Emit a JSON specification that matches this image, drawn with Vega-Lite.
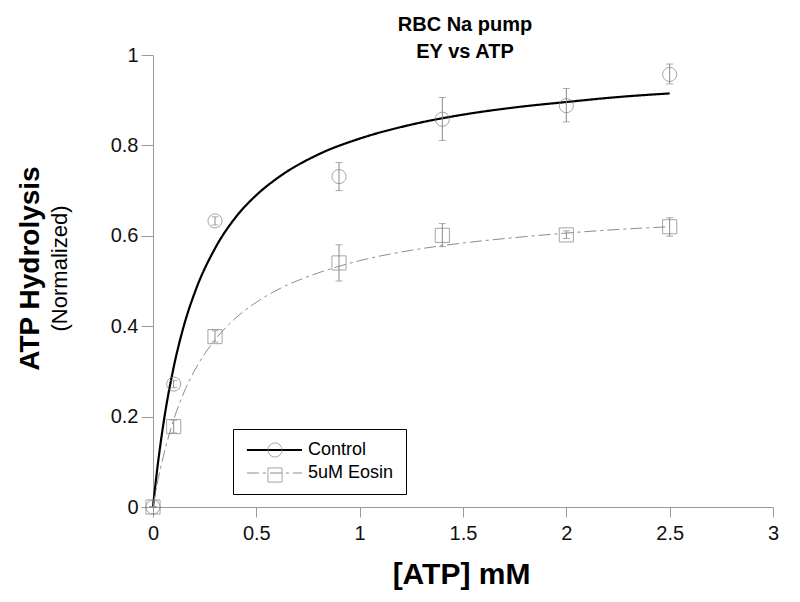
{
  "$schema": "https://vega.github.io/schema/vega-lite/v6.json",
  "width": 620,
  "height": 452,
  "autosize": {"type": "none"},
  "padding": {"left": 153, "top": 55, "right": 27, "bottom": 95},
  "background": "white",
  "config": {
    "view": {"stroke": null},
    "font": "Liberation Sans",
    "axis": {"grid": false, "domainColor": "#9a9a9a", "tickColor": "#9a9a9a", "labelColor": "#111111", "labelFontSize": 20, "labelFont": "Liberation Sans", "titleFont": "Liberation Sans", "titleColor": "#000000"}
  },
  "title": {"text": ["RBC Na pump", "EY vs ATP"], "fontSize": 20, "fontWeight": "bold", "font": "Liberation Sans", "anchor": "middle", "lineHeight": 27, "offset": -17, "dx": 2, "color": "#000000"},
  "datasets": {
    "curves": [
      {"x": 0, "y": 0, "series": "Control"},
      {"x": 0.02, "y": 0.082, "series": "Control"},
      {"x": 0.05, "y": 0.183, "series": "Control"},
      {"x": 0.1, "y": 0.309, "series": "Control"},
      {"x": 0.15, "y": 0.402, "series": "Control"},
      {"x": 0.2, "y": 0.472, "series": "Control"},
      {"x": 0.3, "y": 0.572, "series": "Control"},
      {"x": 0.4, "y": 0.641, "series": "Control"},
      {"x": 0.5, "y": 0.69, "series": "Control"},
      {"x": 0.6, "y": 0.727, "series": "Control"},
      {"x": 0.8, "y": 0.78, "series": "Control"},
      {"x": 1.0, "y": 0.815, "series": "Control"},
      {"x": 1.25, "y": 0.846, "series": "Control"},
      {"x": 1.5, "y": 0.868, "series": "Control"},
      {"x": 1.75, "y": 0.884, "series": "Control"},
      {"x": 2.0, "y": 0.896, "series": "Control"},
      {"x": 2.25, "y": 0.907, "series": "Control"},
      {"x": 2.5, "y": 0.915, "series": "Control"},
      {"x": 0, "y": 0, "series": "5uM Eosin"},
      {"x": 0.02, "y": 0.05, "series": "5uM Eosin"},
      {"x": 0.05, "y": 0.112, "series": "5uM Eosin"},
      {"x": 0.1, "y": 0.193, "series": "5uM Eosin"},
      {"x": 0.15, "y": 0.254, "series": "5uM Eosin"},
      {"x": 0.2, "y": 0.301, "series": "5uM Eosin"},
      {"x": 0.3, "y": 0.37, "series": "5uM Eosin"},
      {"x": 0.4, "y": 0.418, "series": "5uM Eosin"},
      {"x": 0.5, "y": 0.453, "series": "5uM Eosin"},
      {"x": 0.6, "y": 0.48, "series": "5uM Eosin"},
      {"x": 0.8, "y": 0.518, "series": "5uM Eosin"},
      {"x": 1.0, "y": 0.545, "series": "5uM Eosin"},
      {"x": 1.25, "y": 0.568, "series": "5uM Eosin"},
      {"x": 1.5, "y": 0.584, "series": "5uM Eosin"},
      {"x": 1.75, "y": 0.596, "series": "5uM Eosin"},
      {"x": 2.0, "y": 0.606, "series": "5uM Eosin"},
      {"x": 2.25, "y": 0.614, "series": "5uM Eosin"},
      {"x": 2.5, "y": 0.62, "series": "5uM Eosin"}
    ],
    "points": [
      {"x": 0, "y": 0, "lo": 0, "hi": 0, "group": "Control"},
      {"x": 0.1, "y": 0.272, "lo": 0.264, "hi": 0.28, "group": "Control"},
      {"x": 0.3, "y": 0.633, "lo": 0.624, "hi": 0.642, "group": "Control"},
      {"x": 0.9, "y": 0.731, "lo": 0.7, "hi": 0.762, "group": "Control"},
      {"x": 1.4, "y": 0.858, "lo": 0.811, "hi": 0.906, "group": "Control"},
      {"x": 2.0, "y": 0.888, "lo": 0.852, "hi": 0.926, "group": "Control"},
      {"x": 2.5, "y": 0.957, "lo": 0.936, "hi": 0.98, "group": "Control"},
      {"x": 0, "y": 0, "lo": 0, "hi": 0, "group": "5uM Eosin"},
      {"x": 0.1, "y": 0.178, "lo": 0.164, "hi": 0.192, "group": "5uM Eosin"},
      {"x": 0.3, "y": 0.377, "lo": 0.365, "hi": 0.39, "group": "5uM Eosin"},
      {"x": 0.9, "y": 0.54, "lo": 0.5, "hi": 0.58, "group": "5uM Eosin"},
      {"x": 1.4, "y": 0.601, "lo": 0.576, "hi": 0.627, "group": "5uM Eosin"},
      {"x": 2.0, "y": 0.602, "lo": 0.594, "hi": 0.611, "group": "5uM Eosin"},
      {"x": 2.5, "y": 0.62, "lo": 0.599, "hi": 0.64, "group": "5uM Eosin"}
    ]
  },
  "resolve": {"axis": {"y": "independent"}},
  "layer": [
    {
      "data": {"name": "curves"},
      "mark": {"type": "line", "interpolate": "monotone"},
      "encoding": {
        "x": {"field": "x", "type": "quantitative", "scale": {"domain": [0, 3], "nice": false},
          "axis": {"title": "[ATP] mM", "values": [0, 0.5, 1, 1.5, 2, 2.5, 3], "format": "~g", "tickSize": 10, "labelPadding": 6, "titleFontSize": 30, "titleFontWeight": "bold", "titleX": 308, "titleY": 76, "titleAlign": "center", "titleBaseline": "alphabetic", "labelFlush": false}},
        "y": {"field": "y", "type": "quantitative", "scale": {"domain": [0, 1], "nice": false},
          "axis": {"title": "ATP Hydrolysis", "orient": "left", "values": [0, 0.2, 0.4, 0.6, 0.8, 1], "format": "~g", "tickSize": 12, "labelPadding": 3, "titleFontSize": 28, "titleFontWeight": "bold", "titleX": -115, "titleY": 213, "titleAngle": -90, "titleAlign": "center", "titleBaseline": "alphabetic", "labelFlush": false}},
        "stroke": {"field": "series", "type": "nominal", "scale": {"domain": ["Control", "5uM Eosin"], "range": ["#000000", "#8c8c8c"]},
          "legend": {"title": null, "orient": "none", "legendX": 80, "legendY": 374, "symbolType": "M-1,0L6.78,0", "symbolSize": 200, "labelFontSize": 18, "labelColor": "#000000", "labelFont": "Liberation Sans", "labelOffset": 45, "padding": 12, "rowPadding": 5, "strokeColor": "#000000"}},
        "strokeDash": {"field": "series", "type": "nominal", "scale": {"domain": ["Control", "5uM Eosin"], "range": [[1, 0], [12, 4, 3, 4]]}},
        "strokeWidth": {"field": "series", "type": "nominal", "scale": {"domain": ["Control", "5uM Eosin"], "range": [2.2, 1]}}
      }
    },
    {
      "data": {"name": "points"},
      "mark": {"type": "errorbar", "ticks": {"size": 7, "color": "#8a8a8a"}, "rule": {"color": "#8a8a8a", "strokeWidth": 1}},
      "encoding": {
        "x": {"field": "x", "type": "quantitative"},
        "y": {"field": "lo", "type": "quantitative", "axis": null},
        "y2": {"field": "hi"}
      }
    },
    {
      "data": {"name": "points"},
      "mark": {"type": "point", "filled": false, "color": "#808080", "size": 200, "strokeWidth": 1},
      "encoding": {
        "x": {"field": "x", "type": "quantitative"},
        "y": {"field": "y", "type": "quantitative",
          "axis": {"title": "(Normalized)", "orient": "left", "labels": false, "ticks": false, "domain": false, "titleFontSize": 22, "titleFontWeight": "normal", "titleX": -87, "titleY": 213, "titleAngle": -90, "titleAlign": "center", "titleBaseline": "alphabetic"}},
        "shape": {"field": "group", "type": "nominal", "sort": ["Control", "5uM Eosin"], "scale": {"range": ["circle", "square"]},
          "legend": {"title": null, "orient": "none", "legendX": 101, "legendY": 374, "symbolSize": 200, "symbolStrokeColor": "#808080", "symbolFillColor": "transparent", "symbolStrokeWidth": 1, "labelFontSize": 18, "labelExpr": "''", "labelOffset": 6, "padding": 12, "rowPadding": 5}}
      }
    }
  ]
}
